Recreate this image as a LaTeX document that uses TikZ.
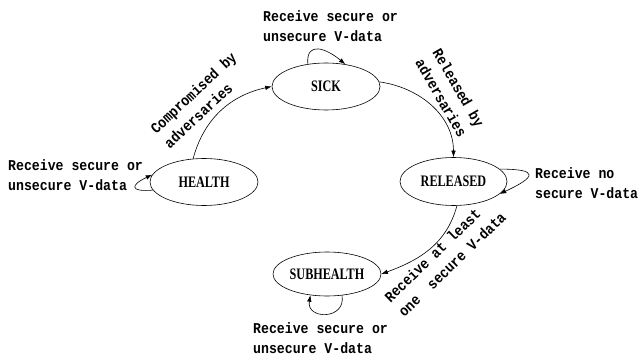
\documentclass[tikz,border=0pt]{standalone}
\usepackage{fontspec}
\usetikzlibrary{arrows.meta,shapes.geometric}
\newfontfamily\lblfont[FakeStretch=0.88]{Liberation Mono}
\newfontfamily\statefont[FakeStretch=0.76]{Liberation Serif}
\begin{document}
\begin{tikzpicture}[x=1pt,y=1pt,
  state/.style={draw,ellipse,line width=0.6pt,minimum width=108pt,minimum height=47pt,inner sep=0pt,
    font=\statefont\bfseries\fontsize{16}{18}\selectfont},
  lbl/.style={inner sep=0pt,align=left,font=\lblfont\bfseries\fontsize{15}{20}\selectfont},
  edge/.style={line width=0.6pt,-{Latex[length=6.5pt,width=4.5pt]}}]
\useasboundingbox (0,0) rectangle (642,-358);
\node[state] (sick) at (326,-86.5) {SICK};
\node[state] (health) at (204,-182) {HEALTH};
\node[state,minimum width=107pt,minimum height=48pt] (released) at (453.5,-181.5) {RELEASED};
\node[state,minimum height=44pt] (sub) at (327,-274) {SUBHEALTH};

\draw[edge] (health.115) to[out=75,in=192] (sick.180);
\draw[edge] (sick.5) to[out=-8,in=90] (released.north);
\draw[edge] (released.-82) to[out=-105,in=20] (sub.east);

\draw[edge] (health.189) to[out=185,in=205,distance=24pt] (health.172);
\draw[edge] (sick.129) to[out=95,in=140,distance=24pt] (sick.49);
\draw[edge] (released.15) to[out=0,in=25,distance=40pt] (released.-15);
\draw[edge] (sub.-55) to[out=-80,in=-100,distance=25pt] (sub.-128);

\node[lbl,rotate=43] (l1) at (200,-100) {Compromised by\\adversaries};
\node[lbl,rotate=-60,align=center] (l2) at (450,-93) {Released by\\adversaries};
\node[lbl,rotate=44] (l3) at (445,-257) {Receive at least\\one\ \ secure V-data};

\node[lbl,anchor=west] (h) at (8,-175) {Receive secure or\\unsecure V-data};
\node[lbl,anchor=west] (s) at (263,-26.5) {Receive secure or\\unsecure V-data};
\node[lbl,anchor=west] (r) at (535,-183) {Receive no\\secure V-data};
\node[lbl,anchor=west] (b) at (253,-338) {Receive secure or\\unsecure V-data};
\end{tikzpicture}
\end{document}
